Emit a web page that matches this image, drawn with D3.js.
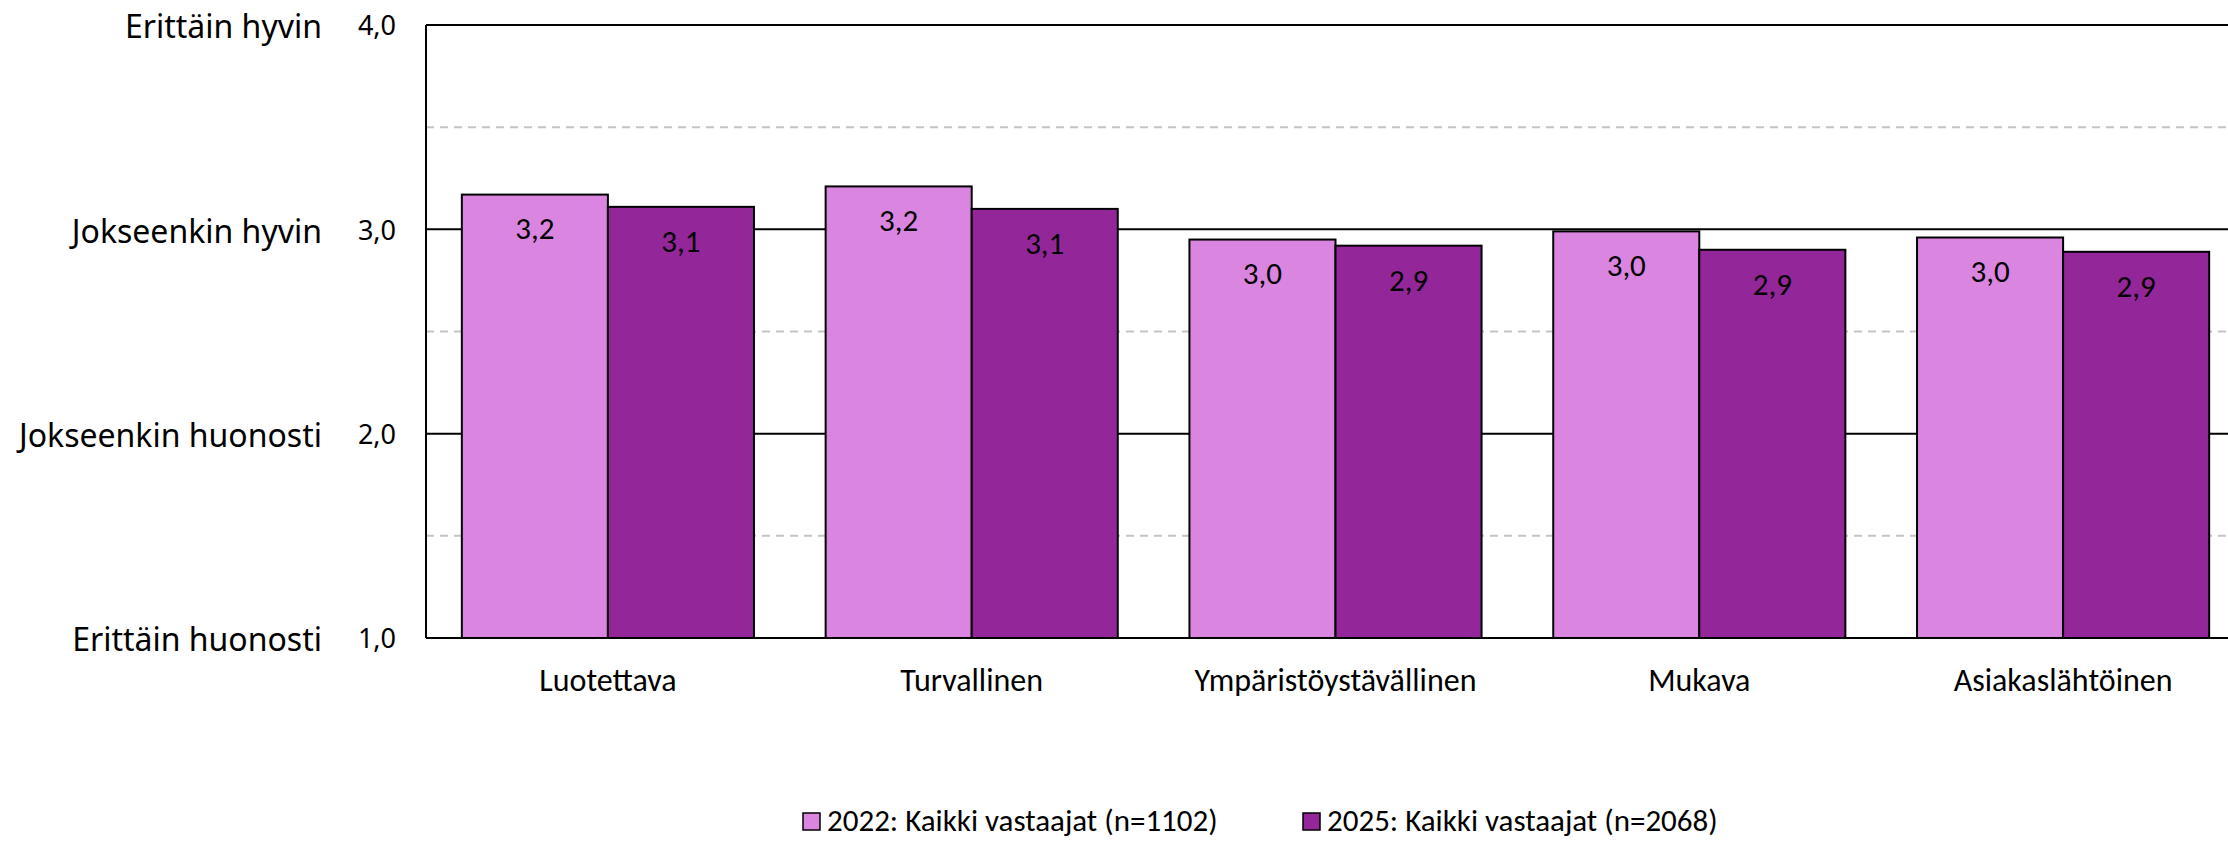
<!DOCTYPE html>
<html>
<head>
<meta charset="utf-8">
<script src="https://cdn.jsdelivr.net/npm/d3@7"></script>
<style>
	body { margin: 0; background: #fff; }
	svg { display: block; }
	.ylab { font-family: "Noto Sans", "Open Sans", sans-serif; fill: #000; }
	.cal { font-family: Carlito, Calibri, Lato, sans-serif; fill: #000; }
</style>
</head>
<body>
<div id="chart"></div>
<script>
	var categories = ['Luotettava', 'Turvallinen', 'Ympäristöystävällinen', 'Mukava', 'Asiakaslähtöinen'];
	var series = ['2022: Kaikki vastaajat (n=1102)', '2025: Kaikki vastaajat (n=2068)'];
	var values2022 = [3.17, 3.21, 2.95, 2.99, 2.96];
	var values2025 = [3.11, 3.10, 2.92, 2.90, 2.89];
	var scaleTicks = [1, 2, 3, 4];
	var scaleLabels = ['Erittäin huonosti', 'Jokseenkin huonosti', 'Jokseenkin hyvin', 'Erittäin hyvin'];
	var halfTicks = [1.5, 2.5, 3.5];
	var colors = ['#da86e0', '#93279a'];

	var width = 2228, height = 841;
	var margin = {top: 25, left: 426, bottom: 203};

	var svg = d3.select('#chart').append('svg')
		.attr('width', width)
		.attr('height', height);

	var y = d3.scaleLinear()
		.domain([1, 4])
		.range([height - margin.bottom, margin.top]);

	// plot area is wider than the window, the last category gets cut at the right edge
	var x0 = d3.scaleBand()
		.domain(categories)
		.range([margin.left, 2245])
		.paddingInner(0.197)
		.paddingOuter(0.0985);

	var x1 = d3.scaleBand()
		.domain(d3.range(series.length))
		.range([0, x0.bandwidth()]);

	var fmt = function(v) { return d3.format('.1f')(v).replace('.', ','); };

	// dashed half steps
	svg.append('g').selectAll('line')
		.data(halfTicks)
		.enter().append('line')
			.attr('x1', margin.left).attr('x2', width)
			.attr('y1', function(d) { return y(d); })
			.attr('y2', function(d) { return y(d); })
			.attr('stroke', '#c4c4c4')
			.attr('stroke-width', 2)
			.attr('stroke-dasharray', '8,6');

	// solid lines on whole values
	svg.append('g').selectAll('line')
		.data(scaleTicks)
		.enter().append('line')
			.attr('x1', margin.left).attr('x2', width)
			.attr('y1', function(d) { return y(d); })
			.attr('y2', function(d) { return y(d); })
			.attr('stroke', '#000')
			.attr('stroke-width', 2);

	var rows = categories.map(function(c, i) { return [values2022[i], values2025[i]]; });

	var groups = svg.append('g').selectAll('g')
		.data(rows)
		.enter().append('g')
			.attr('transform', function(d, i) { return 'translate(' + x0(categories[i]) + ',0)'; });

	groups.selectAll('rect')
		.data(function(d) { return d; })
		.enter().append('rect')
			.attr('x', function(d, j) { return x1(j); })
			.attr('width', x1.bandwidth())
			.attr('y', function(d) { return y(d); })
			.attr('height', function(d) { return y(1) - y(d); })
			.attr('fill', function(d, j) { return colors[j]; })
			.attr('stroke', '#000')
			.attr('stroke-width', 2);

	groups.selectAll('text')
		.data(function(d) { return d; })
		.enter().append('text')
			.attr('class', 'cal')
			.attr('x', function(d, j) { return x1(j) + x1.bandwidth() / 2; })
			.attr('y', function(d) { return y(d) + 34; })
			.attr('dy', '0.35em')
			.attr('text-anchor', 'middle')
			.style('font-size', '31px')
			.text(fmt);

	// axis line on the left
	svg.append('line')
		.attr('x1', margin.left).attr('x2', margin.left)
		.attr('y1', y(4)).attr('y2', y(1))
		.attr('stroke', '#000')
		.attr('stroke-width', 2);

	// tick numbers
	svg.append('g').selectAll('text')
		.data(scaleTicks)
		.enter().append('text')
			.attr('class', 'ylab')
			.attr('x', 396)
			.attr('y', function(d) { return y(d) + 1; })
			.attr('dy', '0.35em')
			.attr('text-anchor', 'end')
			.style('font-size', '27px')
			.text(fmt);

	svg.append('g').selectAll('text')
		.data(scaleTicks)
		.enter().append('text')
			.attr('class', 'ylab')
			.attr('x', 322)
			.attr('y', function(d) { return y(d) + 2; })
			.attr('dy', '0.35em')
			.attr('text-anchor', 'end')
			.style('font-size', '32px')
			.text(function(d, i) { return scaleLabels[i]; });

	// category labels
	svg.append('g').selectAll('text')
		.data(categories)
		.enter().append('text')
			.attr('class', 'cal')
			.attr('x', function(d) { return x0(d) + x0.bandwidth() / 2; })
			.attr('y', 680)
			.attr('dy', '0.35em')
			.attr('text-anchor', 'middle')
			.style('font-size', '32px')
			.text(function(d) { return d; });

	// legend
	var legendX = [803, 1303];
	var legend = svg.append('g').selectAll('g')
		.data(series)
		.enter().append('g')
			.attr('transform', function(d, i) { return 'translate(' + legendX[i] + ',821)'; });

	legend.append('rect')
		.attr('x', 0).attr('y', -8)
		.attr('width', 17).attr('height', 17)
		.attr('fill', function(d, i) { return colors[i]; })
		.attr('stroke', '#000')
		.attr('stroke-width', 1.5);

	legend.append('text')
		.attr('class', 'cal')
		.attr('x', 24)
		.attr('y', 0)
		.attr('dy', '0.33em')
		.style('font-size', '31px')
		.text(function(d) { return d; });
</script>
</body>
</html>
